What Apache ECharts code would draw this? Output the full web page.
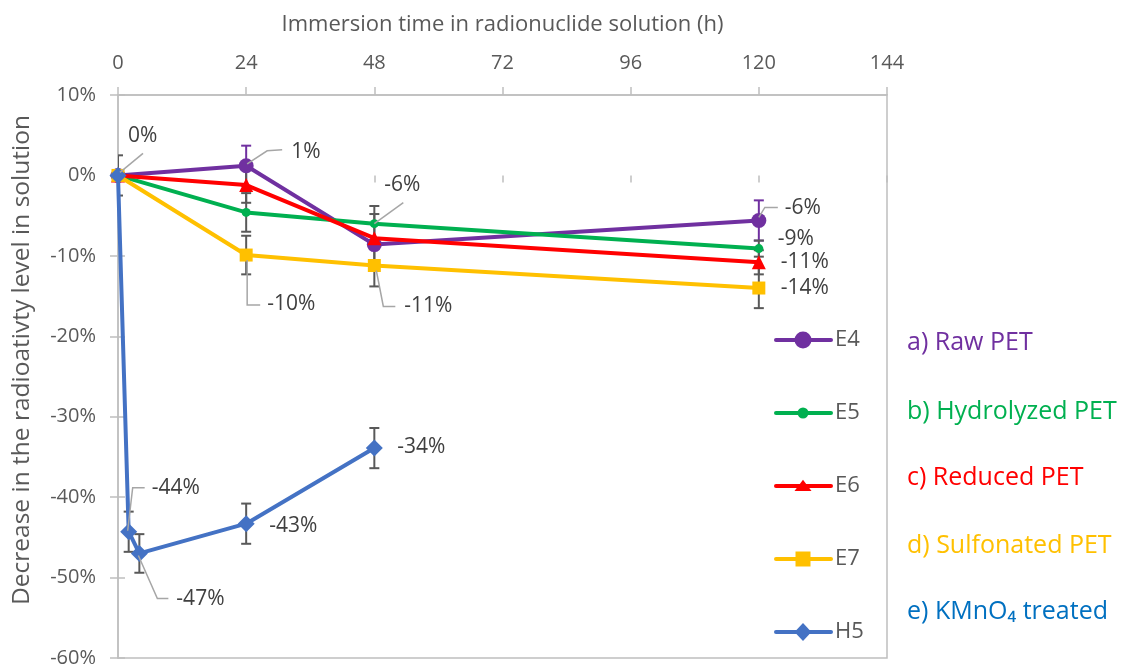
<!DOCTYPE html>
<html>
<head>
<meta charset="utf-8">
<title>Radioactivity decrease vs immersion time</title>
<script src="https://cdn.jsdelivr.net/npm/echarts@6/dist/echarts.min.js"></script>
<style>
  html, body { margin: 0; padding: 0; background: #fff; }
  #chart { width: 1123px; height: 664px; }
</style>
</head>
<body>
<div id="chart"></div>
<script>
// ---- data (percent change of radioactivity in solution) ----
const seriesNames = ['E4', 'E5', 'E6', 'E7', 'H5'];
const groupNames = ['a) Raw PET', 'b) Hydrolyzed PET', 'c) Reduced PET', 'd) Sulfonated PET', 'e) KMnO\u2084 treated'];
const xTitle = 'Immersion time in radionuclide solution (h)';
const yTitle = 'Decrease in the radioativty level in solution';

const hoursE = [0, 24, 48, 120];
const e4 = [0, 1.2, -8.6, -5.6];
const e4Err = [0, 2.5, 0, 2.5];
const e5 = [0, -4.6, -6.0, -9.1];
const e5Err = [0, 2.4, 2.2, 1.0];
const e6 = [0, -1.2, -7.8, -10.8];
const e6Err = [0, 2.2, 3.0, 1.5];
const e7 = [0, -9.9, -11.2, -14.0];
const e7Err = [0, 2.4, 2.6, 2.5];

const hoursH = [0, 2, 4, 24, 48];
const h5 = [0, -44.3, -47.0, -43.3, -33.9];
const h5Err = [2.5, 2.5, 2.4, 2.5, 2.5];

const xTicks = [0, 24, 48, 72, 96, 120, 144];
const yMin = -60, yMax = 10, yStep = 10;

// which points carry a value label (series index, point index)
const labelled = [
  [0, 0], [0, 1], [0, 3],
  [1, 2], [1, 3],
  [2, 3],
  [3, 1], [3, 2], [3, 3],
  [4, 1], [4, 2], [4, 3], [4, 4]
];

// ---- styling / layout ----
const FONT = '"Open Sans", "Noto Sans", "DejaVu Sans", sans-serif';
const TEXT = '#595959';
const AXIS = '#BFBFBF';
const lineColors = ['#7030A0', '#00B050', '#FF0000', '#FFC000', '#4472C4'];
const groupColors = ['#7030A0', '#00B050', '#FF0000', '#FFC000', '#0070C0'];
const symbols = ['circle', 'circle', 'triangle', 'rect', 'diamond'];
const symbolSizes = [15, 9, 14, 13, 17];
const errColors = ['#7030A0', '#595959', '#595959', '#595959', '#595959'];

// label placement in pixels relative to the point: text anchor + optional leader polyline
const labelPlacement = {
  '0-0': { dx: 10, dy: -39, leader: [[2, -3], [25, -22]] },
  '0-1': { dx: 45, dy: -14, leader: [[1, -2], [21, -15], [36, -16]] },
  '0-3': { dx: 26, dy: -12, leader: [[0, -3], [6, -13], [19, -13]] },
  '1-2': { dx: 10, dy: -39, leader: [[0, 0], [29, -21]] },
  '1-3': { dx: 19, dy: -10 },
  '2-3': { dx: 22, dy: 0 },
  '3-1': { dx: 21, dy: 49, leader: [[1, 5], [1, 50], [14, 50]] },
  '3-2': { dx: 30, dy: 41, leader: [[2, 5], [9, 41], [21, 41]] },
  '3-3': { dx: 22, dy: 0 },
  '4-1': { dx: 23, dy: -44, leader: [[-1, -1], [4, -44], [16, -44]] },
  '4-2': { dx: 37, dy: 46, leader: [[-1, 2], [18, 45], [29, 45]] },
  '4-3': { dx: 23, dy: 2 },
  '4-4': { dx: 23, dy: -1 }
};

// hand-drawn legend geometry
const legendBox = { lineX1: 776, lineX2: 831, markX: 803, textX: 835, ys: [340, 413, 486, 559, 632] };
const legendMarkSizes = [17, 11, 17, 15, 21];
const noteBox = { x: 907, ys: [343, 412, 478, 546, 612] };

// ---- assemble ----
const xs = [hoursE, hoursE, hoursE, hoursE, hoursH];
const ys = [e4, e5, e6, e7, h5];
const errs = [e4Err, e5Err, e6Err, e7Err, h5Err];

function pairs(x, y) { return x.map((v, i) => [v, y[i]]); }

const lineSeries = seriesNames.map((name, s) => ({
  name: name,
  type: 'line',
  data: pairs(xs[s], ys[s]),
  symbol: symbols[s],
  symbolSize: symbolSizes[s],
  showAllSymbol: true,
  lineStyle: { color: lineColors[s], width: 4 },
  itemStyle: { color: lineColors[s], borderWidth: 0 },
  emphasis: { disabled: true },
  z: 3 + s,
  animation: false
}));

const errorSeries = seriesNames.map((name, s) => ({
  type: 'custom',
  name: name + ' error',
  data: xs[s].map((x, i) => [x, ys[s][i], errs[s][i]]),
  encode: { x: 0, y: 1 },
  z: 2,
  clip: true,
  silent: true,
  animation: false,
  renderItem: function (params, api) {
    const x = api.value(0), y = api.value(1), e = api.value(2);
    if (!e) return null;
    const top = api.coord([x, y + e]);
    const bot = api.coord([x, y - e]);
    const cap = 5;
    const st = { stroke: errColors[s], lineWidth: 2 };
    return {
      type: 'group',
      children: [
        { type: 'line', shape: { x1: top[0], y1: top[1], x2: bot[0], y2: bot[1] }, style: st },
        { type: 'line', shape: { x1: top[0] - cap, y1: top[1], x2: top[0] + cap, y2: top[1] }, style: st },
        { type: 'line', shape: { x1: bot[0] - cap, y1: bot[1], x2: bot[0] + cap, y2: bot[1] }, style: st }
      ]
    };
  }
}));

const calloutData = labelled.map(([s, i]) => [xs[s][i], ys[s][i], s, i]);
const calloutSeries = {
  type: 'custom',
  name: 'labels',
  data: calloutData,
  encode: { x: 0, y: 1 },
  z: 20,
  silent: true,
  clip: false,
  animation: false,
  renderItem: function (params, api) {
    const x = api.value(0), y = api.value(1);
    const key = api.value(2) + '-' + api.value(3);
    const pl = labelPlacement[key];
    const p = api.coord([x, y]);
    const children = [];
    if (pl.leader) {
      children.push({
        type: 'polyline',
        shape: { points: pl.leader.map(q => [p[0] + q[0], p[1] + q[1]]) },
        style: { stroke: '#A6A6A6', lineWidth: 1.5, fill: null }
      });
    }
    children.push({
      type: 'text',
      style: {
        x: p[0] + pl.dx, y: p[1] + pl.dy,
        text: Math.round(y) + '%',
        fill: '#404040',
        font: '21px ' + FONT,
        align: 'left', verticalAlign: 'middle'
      }
    });
    return { type: 'group', children: children };
  }
};

// legend marker shapes drawn with graphic primitives
function legendMark(s, cx, cy) {
  const r = legendMarkSizes[s] / 2;
  const fill = { fill: lineColors[s] };
  switch (symbols[s]) {
    case 'circle':
      return { type: 'circle', shape: { cx: cx, cy: cy, r: r }, style: fill };
    case 'triangle':
      return { type: 'polygon', shape: { points: [[cx, cy - r * 0.75], [cx + r, cy + r * 0.6], [cx - r, cy + r * 0.6]] }, style: fill };
    case 'rect':
      return { type: 'rect', shape: { x: cx - r, y: cy - r, width: 2 * r, height: 2 * r }, style: fill };
    default:
      return { type: 'polygon', shape: { points: [[cx, cy - r * 0.85], [cx + r * 0.8, cy], [cx, cy + r * 0.85], [cx - r * 0.8, cy]] }, style: fill };
  }
}

const legendGraphics = [];
seriesNames.forEach((name, s) => {
  const y = legendBox.ys[s];
  legendGraphics.push({
    type: 'line', z: 30,
    shape: { x1: legendBox.lineX1, y1: y, x2: legendBox.lineX2, y2: y },
    style: { stroke: lineColors[s], lineWidth: 4, lineCap: 'round' }
  });
  legendGraphics.push(Object.assign({ z: 31 }, legendMark(s, legendBox.markX, y)));
  legendGraphics.push({
    type: 'text', z: 31,
    style: { x: legendBox.textX, y: y, text: name, fill: TEXT, font: '22px ' + FONT, verticalAlign: 'middle' }
  });
});
groupNames.forEach((t, k) => {
  legendGraphics.push({
    type: 'text', z: 31,
    style: { x: noteBox.x, y: noteBox.ys[k], text: t, fill: groupColors[k], font: '25px ' + FONT, verticalAlign: 'middle' }
  });
});
legendGraphics.push({
  type: 'text', z: 31,
  rotation: Math.PI / 2, x: 22, y: 360,
  style: { x: 0, y: 0, text: yTitle, fill: TEXT, font: '24.5px ' + FONT, align: 'center', verticalAlign: 'middle' }
});

const chart = echarts.init(document.getElementById('chart'), null, { renderer: 'canvas' });

const option = {
  backgroundColor: '#fff',
  animation: false,
  textStyle: { fontFamily: FONT },
  grid: {
    left: 118, right: 236, top: 95, bottom: 6,
    show: true, borderColor: AXIS, borderWidth: 1.5, backgroundColor: 'transparent',
    containLabel: false, outerBoundsMode: 'none'
  },
  xAxis: [
    {
      type: 'value', position: 'top', min: xTicks[0], max: xTicks[xTicks.length - 1],
      interval: xTicks[1] - xTicks[0],
      name: xTitle,
      nameLocation: 'middle', nameGap: 59,
      nameTextStyle: { color: TEXT, fontSize: 22, fontFamily: FONT },
      axisLine: { show: true, onZero: false, lineStyle: { color: AXIS, width: 1.5 } },
      axisTick: { show: true, length: 8, lineStyle: { color: AXIS, width: 1.5 } },
      axisLabel: { color: TEXT, fontSize: 20, margin: 22, fontFamily: FONT },
      splitLine: { show: false }
    },
    {
      type: 'value', position: 'top', min: xTicks[0], max: xTicks[xTicks.length - 1],
      interval: xTicks[1] - xTicks[0],
      axisLine: { show: false },
      axisTick: { show: true, inside: true, length: 7, lineStyle: { color: AXIS, width: 1.5 } },
      axisLabel: { show: false },
      splitLine: { show: false }
    }
  ],
  yAxis: [
    {
      type: 'value', min: yMin, max: yMax, interval: yStep,
      axisLine: { show: true, onZero: false, lineStyle: { color: AXIS, width: 1.5 } },
      axisTick: { show: true, length: 8, lineStyle: { color: AXIS, width: 1.5 } },
      axisLabel: { color: TEXT, fontSize: 20, margin: 22, formatter: '{value}%', fontFamily: FONT },
      splitLine: { show: false }
    },
    {
      type: 'value', min: yMin, max: yMax, interval: yStep, position: 'left',
      axisLine: { show: false },
      axisTick: { show: true, inside: true, length: 7, lineStyle: { color: AXIS, width: 1.5 } },
      axisLabel: { show: false },
      splitLine: { show: false }
    }
  ],
  graphic: legendGraphics,
  series: [].concat(errorSeries, lineSeries, [calloutSeries])
};

chart.setOption(option);
</script>
</body>
</html>
